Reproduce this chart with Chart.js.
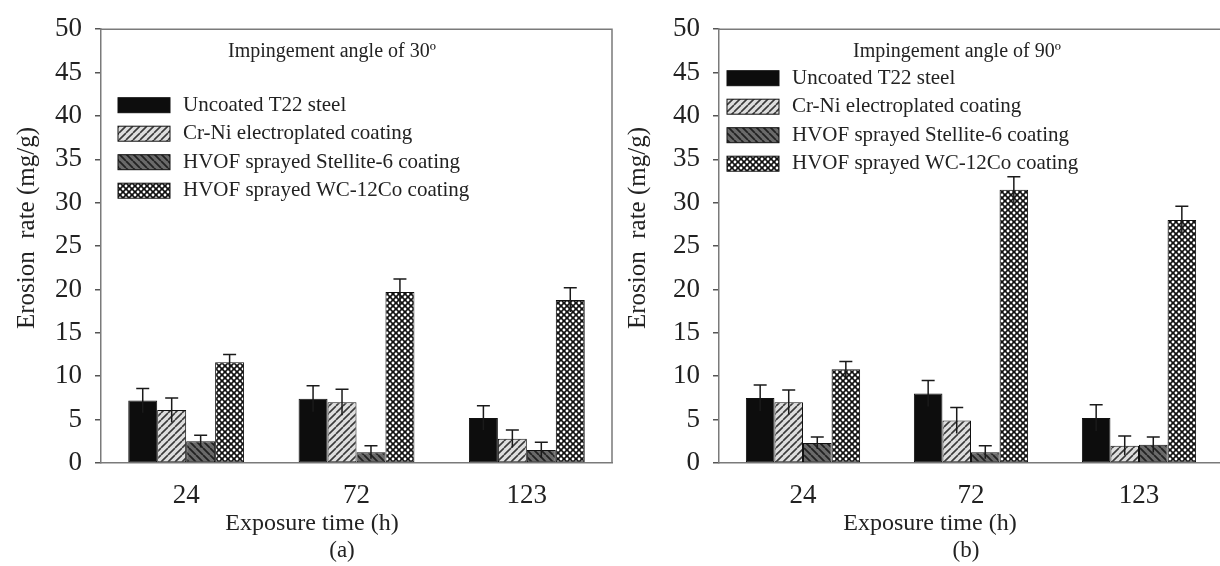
<!DOCTYPE html>
<html>
<head>
<meta charset="utf-8">
<script src="https://cdn.jsdelivr.net/npm/chart.js@4.4.1/dist/chart.umd.min.js"></script>
<style>
  html, body { margin: 0; padding: 0; background: #fff; overflow: hidden; width: 1220px; height: 566px; }
  #chartA { position: absolute; left: 0; top: 0; }
  #chartB { position: absolute; left: 615px; top: 0; }
</style>
</head>
<body>
<canvas id="chartA" width="615" height="566"></canvas>
<canvas id="chartB" width="612" height="566"></canvas>
<script>
// ---- data ----
const exposureHours = ['24', '72', '123']
const seriesNames = [
  'Uncoated T22 steel',
  'Cr-Ni electroplated coating',
  'HVOF sprayed Stellite-6 coating',
  'HVOF sprayed WC-12Co coating'
]

// (a) impingement angle 30°
const uncoated30 = [7.2, 7.4, 5.2]
const crni30 = [6.1, 7.0, 2.8]
const stellite30 = [2.5, 1.25, 1.5]
const wc30 = [11.6, 19.7, 18.8]
const uncoated30Err = [1.4, 1.5, 1.4]
const crni30Err = [1.4, 1.5, 1.0]
const stellite30Err = [0.7, 0.75, 0.9]
const wc30Err = [0.9, 1.5, 1.4]

// (b) impingement angle 90°
const uncoated90 = [7.5, 8.0, 5.2]
const crni90 = [7.0, 4.9, 2.0]
const stellite90 = [2.3, 1.25, 2.1]
const wc90 = [10.8, 31.5, 28.0]
const uncoated90Err = [1.5, 1.5, 1.5]
const crni90Err = [1.4, 1.5, 1.1]
const stellite90Err = [0.7, 0.75, 0.9]
const wc90Err = [0.9, 1.5, 1.6]

const SERIF = "'Liberation Serif', 'Times New Roman', serif"

// ---- fill patterns ----
function stripePattern (bg, fg, dir, size, lw) {
  const c = document.createElement('canvas')
  c.width = c.height = size
  const g = c.getContext('2d')
  g.fillStyle = bg
  g.fillRect(0, 0, size, size)
  g.strokeStyle = fg
  g.lineWidth = lw
  g.beginPath()
  for (const k of [-size, 0, size]) {
    if (dir === '/') { g.moveTo(k, size); g.lineTo(k + size, 0) } else { g.moveTo(k, 0); g.lineTo(k + size, size) }
  }
  g.stroke()
  return g.createPattern(c, 'repeat')
}

function dotPattern () {
  const c = document.createElement('canvas')
  c.width = c.height = 6
  const g = c.getContext('2d')
  g.fillStyle = '#111'
  g.fillRect(0, 0, 6, 6)
  g.fillStyle = '#fff'
  for (const [x, y] of [[0, 0], [6, 0], [0, 6], [6, 6], [3, 3]]) {
    g.beginPath(); g.arc(x, y, 1.45, 0, Math.PI * 2); g.fill()
  }
  return g.createPattern(c, 'repeat')
}

const fills = [
  '#0d0d0d',
  stripePattern('#dedede', '#3a3a3a', '/', 7, 1.6),
  stripePattern('#6a6a6a', '#222', '\\', 7, 1.8),
  dotPattern()
]

// ---- plugins ----
const errorBars = {
  id: 'errorBars',
  afterDatasetsDraw (chart) {
    const { ctx } = chart
    const y = chart.scales.y
    ctx.save()
    ctx.strokeStyle = '#1a1a1a'
    ctx.lineWidth = 1.5
    chart.data.datasets.forEach((ds, i) => {
      chart.getDatasetMeta(i).data.forEach((bar, j) => {
        const v = ds.data[j]
        const e = ds.errors[j]
        const yTop = y.getPixelForValue(v + e)
        const yBot = y.getPixelForValue(v - e)
        ctx.beginPath()
        ctx.moveTo(bar.x, yBot); ctx.lineTo(bar.x, yTop)
        ctx.moveTo(bar.x - 6.5, yTop); ctx.lineTo(bar.x + 6.5, yTop)
        ctx.stroke()
      })
    })
    ctx.restore()
  }
}

// frame (top/right), inner legend, axis titles and panel label
const panelDecor = {
  id: 'panelDecor',
  afterDraw (chart, args, opts) {
    const { ctx, chartArea: a } = chart
    ctx.save()
    ctx.strokeStyle = '#7a7a7a'
    ctx.lineWidth = 1.5
    ctx.beginPath()
    ctx.moveTo(a.left, a.top); ctx.lineTo(a.right, a.top); ctx.lineTo(a.right, a.bottom)
    ctx.stroke()

    ctx.fillStyle = '#222'
    ctx.textBaseline = 'middle'
    ctx.textAlign = 'center'
    ctx.font = `20px ${SERIF}`
    ctx.fillText(opts.heading, a.left + opts.headX, a.top + 23)

    ctx.textAlign = 'left'
    ctx.font = `21px ${SERIF}`
    chart.data.datasets.forEach((ds, i) => {
      const cy = a.top + opts.rowY + i * 28.5
      ctx.fillStyle = ds.backgroundColor
      ctx.fillRect(a.left + opts.boxX, cy - 7.5, 52, 15)
      ctx.strokeStyle = '#111'
      ctx.lineWidth = 1
      ctx.strokeRect(a.left + opts.boxX, cy - 7.5, 52, 15)
      ctx.fillStyle = '#222'
      ctx.fillText(ds.label, a.left + opts.boxX + 65, cy)
    })

    ctx.textAlign = 'center'
    ctx.font = `24px ${SERIF}`
    ctx.fillText('Exposure time (h)', a.left + 211, 524)
    ctx.font = `23px ${SERIF}`
    ctx.fillText(opts.tag, a.left + opts.tagX, 551)

    // y axis title, rotated
    ctx.translate(opts.yTitleX, 228)
    ctx.rotate(-Math.PI / 2)
    ctx.font = `25px ${SERIF}`
    ctx.fillText('Erosion  rate (mg/g)', 0, 0)
    ctx.restore()
  }
}

function makeDatasets (values, errors) {
  return seriesNames.map((name, i) => ({
    label: name,
    data: values[i],
    errors: errors[i],
    backgroundColor: fills[i],
    borderColor: '#111',
    borderWidth: 1,
    borderSkipped: false,
    barPercentage: 1.0,
    categoryPercentage: 0.68
  }))
}

function makeBarChart (canvasId, datasets, yWidth, padRight, decor) {
  return new Chart(document.getElementById(canvasId), {
    type: 'bar',
    data: { labels: exposureHours, datasets },
    options: {
      responsive: false,
      animation: false,
      layout: { padding: { top: 24, right: padRight, left: 0, bottom: 0 } },
      plugins: {
        legend: { display: false },
        tooltip: { enabled: false },
        panelDecor: decor
      },
      scales: {
        x: {
          grid: { display: false },
          border: { display: true, color: '#7a7a7a', width: 1.5 },
          ticks: { color: '#222', font: { family: SERIF, size: 27 }, padding: 9 },
          afterFit (scale) { scale.height = 103 }
        },
        y: {
          min: 0,
          max: 50,
          ticks: { stepSize: 5, color: '#222', font: { family: SERIF, size: 27 }, padding: 13 },
          grid: { display: true, drawOnChartArea: false, drawTicks: true, tickLength: 6, color: '#555', lineWidth: 1.5 },
          border: { display: true, color: '#7a7a7a', width: 1.5 },
          afterFit (scale) { scale.width = yWidth }
        }
      }
    },
    plugins: [errorBars, panelDecor]
  })
}

makeBarChart(
  'chartA',
  makeDatasets([uncoated30, crni30, stellite30, wc30], [uncoated30Err, crni30Err, stellite30Err, wc30Err]),
  101, 3,
  { heading: 'Impingement angle of 30º', headX: 231, boxX: 17, rowY: 76, tag: '(a)', tagX: 241, yTitleX: 27 }
)

makeBarChart(
  'chartB',
  makeDatasets([uncoated90, crni90, stellite90, wc90], [uncoated90Err, crni90Err, stellite90Err, wc90Err]),
  104, 4,
  { heading: 'Impingement angle of 90º', headX: 238, boxX: 8, rowY: 49, tag: '(b)', tagX: 247, yTitleX: 23 }
)
</script>
</body>
</html>
